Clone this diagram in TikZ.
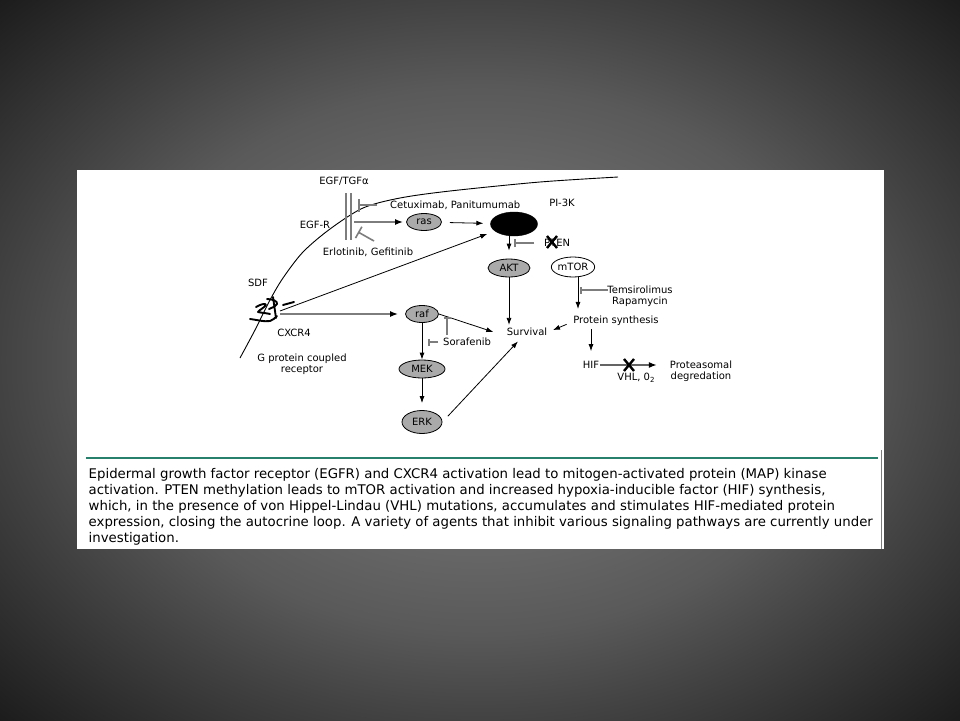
\documentclass[tikz,border=0pt]{standalone}
\usepackage{fontspec}
\setmainfont{DejaVu Sans}
\usetikzlibrary{shapes.geometric,arrows.meta}
\pgfdeclareradialshading{bgshade}{\pgfpoint{0bp}{0bp}}{rgb(0bp)=(.48,.48,.48); rgb(10bp)=(.43,.43,.43); rgb(19bp)=(.35,.35,.35); rgb(25bp)=(.26,.26,.26); rgb(35.4bp)=(.11,.11,.11); rgb(50bp)=(.11,.11,.11)}
\definecolor{ellgray}{RGB}{170,170,170}
\definecolor{lngray}{RGB}{125,125,125}
\definecolor{teal2}{RGB}{38,128,108}
\newcommand\dfont{\fontsize{10pt}{11pt}\selectfont}
\newcommand\cfont{\fontsize{13.3pt}{16pt}\selectfont}
\begin{document}
\begin{tikzpicture}[x=1pt,y=-1pt,
  lbl/.style={font=\dfont, inner sep=1pt},
  capline/.style={font=\cfont, inner sep=0pt, anchor=base west},
  gell/.style={ellipse, draw=black, fill=ellgray, line width=0.8pt, font=\dfont, inner sep=0pt},
  well/.style={ellipse, draw=black, fill=white, line width=0.8pt, font=\dfont, inner sep=0pt},
  barrow/.style={draw=black, line width=0.8pt, -{Latex[length=7pt,width=5pt]}},
  garrow/.style={draw=lngray, line width=1.6pt, -{Latex[length=8pt,width=6pt,color=black]}},
  inh/.style={draw=lngray, line width=1.6pt, -{Bar[width=#1]}},
  inh/.default=13pt,
  xmark/.style={draw=black, line width=2.4pt},
  memb/.style={draw=black, line width=0.9pt},
  scrib/.style={draw=black, line width=1.9pt, line cap=round, line join=round}
]
\useasboundingbox (0,0) rectangle (960,720);
\shade[shading=bgshade] (0,0) rectangle (960,720);
\fill[white] (77,170) rectangle (884,549);
\draw[lngray, line width=0.8pt] (881,450) -- (881,549);

% membrane
\draw[memb] plot[smooth] coordinates {(240,358) (255,330) (270,300) (283,278) (303,252) (330,229) (363,208) (400,198) (450,191) (540,182) (618,177)};

% receptor
\draw[draw=lngray, line width=1.6pt] (346,193) -- (346,240);
\draw[draw=lngray, line width=1.6pt] (351,193) -- (351,240);

% labels
\node[lbl] (egf) at (344,181) {EGF/TGFα};
\node[lbl] (egfr) at (315,225) {EGF-R};
\node[lbl] (sdf) at (258,283) {SDF};
\node[lbl, anchor=west] (cetux) at (389,205) {Cetuximab, Panitumumab};
\node[lbl] (erl) at (368,252) {Erlotinib, Gefitinib};
\node[lbl] (pi3klbl) at (562,203) {PI-3K};
\node[lbl, anchor=west] (pten) at (543,243) {PTEN};
\node[lbl] (surv) at (527,332) {Survival};
\node[lbl] (prot) at (616,321) {Protein synthesis};
\node[lbl, align=center] (tem) at (640,296) {Temsirolimus\\Rapamycin};
\node[lbl] (hif) at (591,365) {HIF};
\node[lbl, align=center] (prote) at (701,371) {Proteasomal\\degredation};
\node[lbl] (vhl) at (636,378) {VHL, 0\raisebox{-2.5pt}{\fontsize{7pt}{7pt}\selectfont 2}};
\node[lbl, anchor=west] (sor) at (442,342) {Sorafenib};
\node[lbl] (cxcr4) at (294,333) {CXCR4};
\node[lbl, align=center] (gpcr) at (302,364) {G protein coupled\\receptor};

% ellipses
\node[gell, minimum width=35pt, minimum height=17pt] (ras) at (424,222) {ras};
\node[ellipse, draw=black, fill=black, minimum width=47pt, minimum height=24pt, inner sep=0pt] (pi3k) at (514,224) {};
\node[gell, minimum width=42pt, minimum height=18pt] (akt) at (509,268) {AKT};
\node[well, minimum width=37pt, minimum height=20pt] (mtor) at (573,267) {mTOR};
\node[gell, minimum width=33pt, minimum height=17pt] (raf) at (422,314) {raf};
\node[gell, minimum width=46pt, minimum height=18pt] (mek) at (422,369) {MEK};
\node[gell, minimum width=40pt, minimum height=23pt] (erk) at (422,422) {ERK};

% coordinates
\coordinate (recR) at (354,222);
\coordinate (cetS) at (377,205);
\coordinate (cetB) at (358,205);
\coordinate (erlS) at (374,241);
\coordinate (erlB) at (358,232);
\coordinate (cxA) at (280,311);
\coordinate (cxB) at (280,314);
\coordinate (ptS) at (534,243);
\coordinate (ptB) at (514,243);
\coordinate (temS) at (608,290);
\coordinate (temB) at (580,290);
\coordinate (so1S) at (447,335);
\coordinate (so1B) at (447,317);
\coordinate (so2S) at (438,342);
\coordinate (so2B) at (428,342);

% connectors
\draw[garrow, shorten >=3pt] (recR) -- (ras);
\draw[inh] (cetS) -- (cetB);
\draw[inh] (erlS) -- (erlB);
\draw[barrow, shorten <=8pt, shorten >=7pt] (ras) -- (pi3k);
\draw[barrow, shorten >=8pt] (cxA) -- (pi3k);
\draw[garrow, shorten >=7pt] (cxB) -- (raf);
\draw[barrow, shorten >=8pt] (pi3k.south -| akt.north) -- (akt.north);
\draw[inh=8pt] (ptS) -- (ptB);
\draw[barrow, shorten >=2pt] (akt.south) -- (akt.south |- surv.north);
\draw[barrow, shorten >=6pt] ([xshift=5pt]mtor.south) -- ([xshift=5pt]mtor.south |- prot.north);
\draw[inh=7pt] (temS) -- (temB);
\draw[barrow, shorten <=6pt, shorten >=5pt] ([yshift=-1pt]prot.west) -- (surv.east);
\draw[barrow, shorten <=2pt, shorten >=9pt] (hif.north |- prot.south) -- (hif.north);
\draw[draw=lngray!80!black, line width=1.2pt, -{Latex[length=8pt,width=6pt,color=black]}, shorten >=12pt] (hif.east) -- (hif.east -| prote.west);
\draw[barrow, shorten >=13pt] (raf.east) -- ([yshift=-4pt]surv.west);
\draw[inh=7pt] (so1S) -- (so1B);
\draw[barrow] (raf) -- (mek);
\draw[inh=7pt] (so2S) -- (so2B);
\draw[barrow, shorten >=7pt] (mek) -- (erk);
\draw[barrow, shorten <=8pt, shorten >=6pt] (erk.east) -- ([xshift=-5pt]surv.south);

% X marks
\draw[xmark] (547,236) -- (557,248) (557,236) -- (547,248);
\draw[xmark] (624,359) -- (634,371) (634,359) -- (624,371);

% CXCR4 scribble
\draw[scrib] (250,319) .. controls (258,320) and (264,322) .. (270,321) .. controls (273,320) and (275,318) .. (277,316);
\draw[scrib] (256,307) .. controls (261,304) and (266,303) .. (266,305) .. controls (264,308) and (259,310) .. (258,312) .. controls (262,313) and (266,313) .. (270,314);
\draw[scrib] (267,299) .. controls (272,299) and (278,301) .. (277,304) .. controls (275,307) and (271,308) .. (269,309);
\draw[scrib] (273,297) .. controls (274,304) and (275,311) .. (276,318);
\draw[scrib] (283,305) -- (294,302);

% caption
\draw[teal2, line width=2pt] (86,458) -- (878,458);
\node[capline] (c1) at (88.5,478) {Epidermal growth factor receptor (EGFR) and CXCR4 activation lead to mitogen-activated protein (MAP) kinase};
\node[capline] (c2) at (88.5,494) {activation. PTEN methylation leads to mTOR activation and increased hypoxia-inducible factor (HIF) synthesis,};
\node[capline] (c3) at (88.5,510) {which, in the presence of von Hippel-Lindau (VHL) mutations, accumulates and stimulates HIF-mediated protein};
\node[capline] (c4) at (88.5,526) {expression, closing the autocrine loop. A variety of agents that inhibit various signaling pathways are currently under};
\node[capline] (c5) at (88.5,542) {investigation.};
\end{tikzpicture}
\end{document}
